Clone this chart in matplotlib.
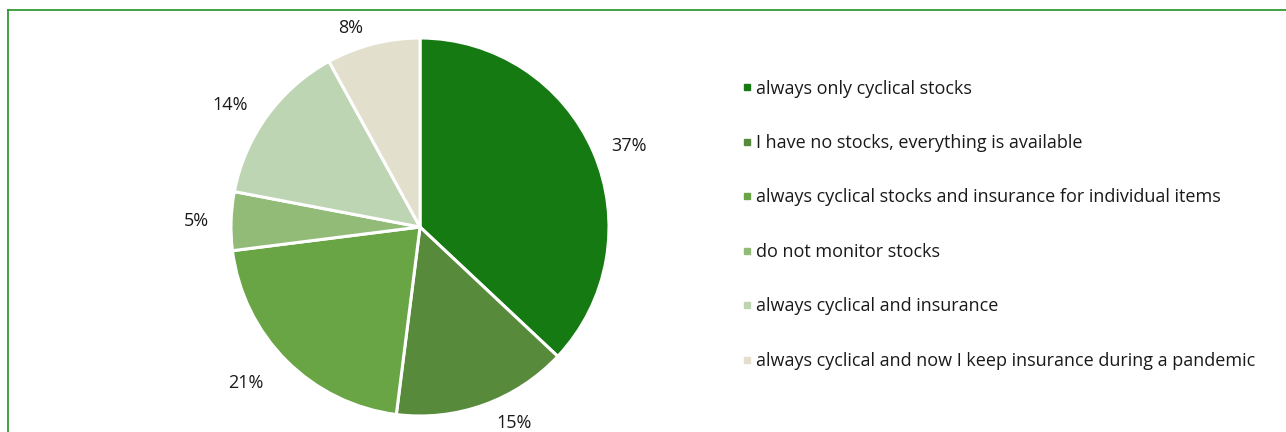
import numpy as np
import matplotlib.pyplot as plt
from matplotlib.lines import Line2D

# survey answers, share of respondents (%)
categories = [
    "always only cyclical stocks",
    "I have no stocks, everything is available",
    "always cyclical stocks and insurance for individual items",
    "do not monitor stocks",
    "always cyclical and insurance",
    "always cyclical and now I keep insurance during a pandemic",
]
shares = [37, 15, 21, 5, 14, 8]
colors = ["#157a12", "#578a3a", "#69a445", "#93bb78", "#bdd5b2", "#e3dfcd"]
# percentage label placement: distance (pie radii) and angle nudge (deg)
label_r = [1.19, 1.14, 1.23, 1.185, 1.2, 1.13]
label_nudge = [-1.6, 6.2, -3.7, -0.5, 2.7, 4.6]

plt.rcParams["font.family"] = ["Open Sans", "DejaVu Sans"]

fig = plt.figure(figsize=(12.86, 4.32), dpi=100)

# pie centred at (420, 227) px, radius ~189 px
cx, cy, r = 420 / 1286, 1 - 227 / 432, 189
ax = fig.add_axes([cx - r / 1286, cy - r / 432, 2 * r / 1286, 2 * r / 432])
wedges, _ = ax.pie(shares, colors=colors, startangle=90, counterclock=False,
                   radius=1, wedgeprops=dict(edgecolor="white", linewidth=2.2))
ax.set_xlim(-1, 1)
ax.set_ylim(-1, 1)
ax.set_aspect("equal")

cum = np.cumsum([0] + shares)
for i, s in enumerate(shares):
    mid = np.deg2rad(90 - (cum[i] + s / 2) * 3.6 + label_nudge[i])
    ax.text(label_r[i] * np.cos(mid), label_r[i] * np.sin(mid) - 0.015, f"{s}%",
            ha="center", va="center", fontsize=13, color="#1a1a1a", clip_on=False)

handles = [Line2D([], [], marker="s", linestyle="none", markersize=4.5,
                  markerfacecolor=c, markeredgecolor=c) for c in colors]
fig.legend(handles, categories, loc="upper left",
           bbox_to_anchor=(743 / 1286, 1 - 79.5 / 432), frameon=False,
           fontsize=13, labelspacing=2.02, handlelength=0.45,
           handletextpad=0.25, borderpad=0, borderaxespad=0,
           labelcolor="#1a1a1a")

# green frame (top and left edges visible in the original)
border = "#339933"
fig.add_artist(Line2D([8 / 1286, 1], [1 - 10 / 432, 1 - 10 / 432],
                      transform=fig.transFigure, color=border, linewidth=1.3))
fig.add_artist(Line2D([8 / 1286, 8 / 1286], [0, 1 - 10 / 432],
                      transform=fig.transFigure, color=border, linewidth=1.3))

fig.savefig("out.png", dpi=100)
